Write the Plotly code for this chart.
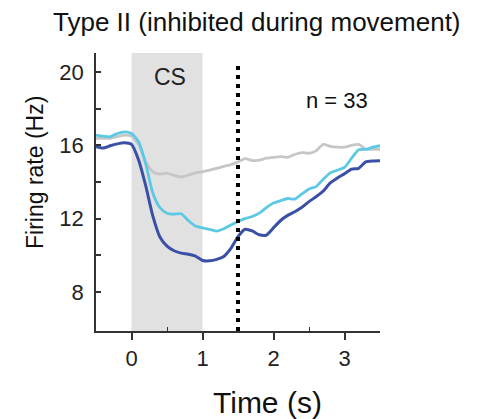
import plotly.graph_objects as go

time_s = [round(-0.5 + 0.1 * i, 2) for i in range(41)]

type2_dark = [15.93, 15.85, 15.98, 16.08, 16.14, 16.05, 15.2, 13.8, 12.15, 11.0,
              10.5, 10.25, 10.12, 10.06, 9.96, 9.72, 9.7, 9.78, 9.94, 10.38,
              11.02, 11.42, 11.33, 11.12, 11.1, 11.5, 11.9, 12.18, 12.38, 12.62,
              12.93, 13.2, 13.5, 13.95, 14.22, 14.45, 14.7, 14.75, 15.1, 15.15, 15.16]

type2_cyan = [16.56, 16.5, 16.47, 16.65, 16.74, 16.65, 16.2, 15.0, 13.4, 12.6,
              12.3, 12.25, 12.27, 11.9, 11.6, 11.5, 11.42, 11.32, 11.45, 11.65,
              11.85, 12.0, 12.12, 12.3, 12.6, 12.85, 12.98, 13.1, 13.07, 13.35,
              13.62, 13.75, 14.15, 14.5, 14.65, 14.8, 15.3, 15.76, 15.78, 15.9, 15.98]

type2_gray = [16.38, 16.38, 16.38, 16.48, 16.56, 16.5, 16.05, 15.1, 14.56, 14.43,
              14.48, 14.36, 14.27, 14.38, 14.5, 14.56, 14.65, 14.75, 14.85, 14.95,
              15.1, 15.28, 15.17, 15.2, 15.3, 15.35, 15.38, 15.35, 15.5, 15.6,
              15.57, 15.7, 16.05, 15.95, 15.9, 15.9, 16.0, 16.05, 15.8, 15.78, 15.78]

x_ticks = [0, 1, 2, 3]
x_minor = [0.5, 1.5, 2.5]
y_ticks = [8, 12, 16, 20]
y_minor = [10, 14, 18]

cs_start, cs_end = 0, 1
movement_time = 1.5

FONT = "Arial, Liberation Sans, Helvetica, sans-serif"

fig = go.Figure()
fig.add_trace(go.Scatter(x=time_s, y=type2_gray, mode="lines",
                         line=dict(color="#c6c6c6", width=2.8, shape="spline", smoothing=0.6)))
fig.add_trace(go.Scatter(x=time_s, y=type2_cyan, mode="lines",
                         line=dict(color="#5cc9e4", width=2.8, shape="spline", smoothing=0.6)))
fig.add_trace(go.Scatter(x=time_s, y=type2_dark, mode="lines",
                         line=dict(color="#3a4fa6", width=3, shape="spline", smoothing=0.6)))

fig.add_shape(type="rect", xref="x", yref="paper", x0=cs_start, x1=cs_end, y0=0, y1=1,
              fillcolor="#e1e1e1", line=dict(width=0), layer="below")
fig.add_shape(type="line", xref="x", yref="y", x0=movement_time, x1=movement_time,
              y0=5.87, y1=20.45, line=dict(color="black", width=4, dash="4px,5px"), layer="above")

fig.add_annotation(x=0.54, y=19.73, xref="x", yref="y", text="CS", showarrow=False,
                   font=dict(family=FONT, size=23, color="#222"))
fig.add_annotation(x=2.9, y=18.47, xref="x", yref="y", text="n = 33", showarrow=False,
                   font=dict(family=FONT, size=22, color="#111"))

fig.add_annotation(text="Type II (inhibited during movement)", xref="paper", yref="paper",
                   x=(257 - 96) / 284, y=(331 - 22) / 278, showarrow=False,
                   font=dict(family=FONT, size=26, color="#111"), xanchor="center", yanchor="middle")
fig.add_annotation(text="Firing rate (Hz)", xref="paper", yref="paper",
                   x=(35 - 96) / 284, y=(331 - 173) / 278, showarrow=False, textangle=-90,
                   font=dict(family=FONT, size=23, color="#111"), xanchor="center", yanchor="middle")
fig.add_annotation(text="Time (s)", xref="paper", yref="paper",
                   x=(267 - 96) / 284, y=(331 - 402) / 278, showarrow=False,
                   font=dict(family=FONT, size=30, color="#111"), xanchor="center", yanchor="middle")

fig.update_layout(
    width=488, height=419, autosize=False,
    margin=dict(l=96, r=108, t=53, b=88),
    plot_bgcolor="white", paper_bgcolor="white",
    showlegend=False,
    font=dict(family=FONT, size=22, color="#222"),
)
fig.update_xaxes(range=[-0.5, 3.5], tickvals=x_ticks, ticks="outside", ticklen=7, tickwidth=1.5,
                 tickcolor="#333", showline=True, linecolor="#333", linewidth=1.5,
                 showgrid=False, zeroline=False,
                 minor=dict(tickvals=x_minor, ticks="inside", ticklen=4, tickwidth=1.2, tickcolor="#333"),
                 tickfont=dict(family=FONT, size=22, color="#222"))
fig.update_yaxes(range=[5.87, 21.04], tickvals=y_ticks, ticks="inside", ticklen=5, tickwidth=1.5,
                 tickcolor="#333", showline=True, linecolor="#333", linewidth=1.5,
                 showgrid=False, zeroline=False,
                 minor=dict(tickvals=y_minor, ticks="inside", ticklen=5, tickwidth=1.5, tickcolor="#333"),
                 tickfont=dict(family=FONT, size=22, color="#222"), ticklabelstandoff=6)

fig.write_html("out.html")
